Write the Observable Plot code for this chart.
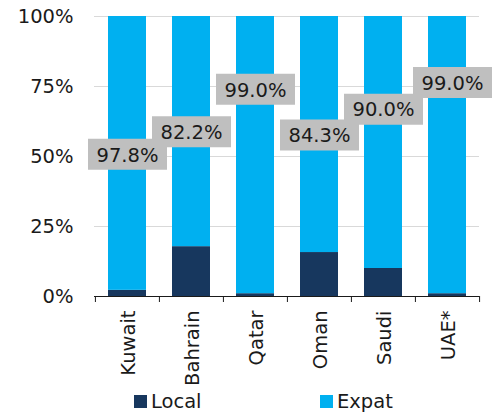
<!DOCTYPE html>
<html>
<head>
<meta charset="utf-8">
<script src="https://cdn.jsdelivr.net/npm/d3@7"></script>
<script src="https://cdn.jsdelivr.net/npm/@observablehq/plot@0.6"></script>
<style>
  html, body { margin: 0; padding: 0; background: #fff; }
  #wrap { position: relative; width: 502px; font-family: "DejaVu Sans", Verdana, sans-serif; color: #1a1a1a; }
  #chart svg text { font-size: 19.5px !important; }
  #legend { position: relative; height: 26px; font-size: 19.5px; }
  .item { position: absolute; top: 0; height: 31px; display: flex; align-items: center; }
  .sw { width: 13px; height: 13px; margin-right: 4px; }
</style>
</head>
<body>
<div id="wrap"><div id="chart"></div><div id="legend"></div></div>
<script>
const categories = ["Kuwait", "Bahrain", "Qatar", "Oman", "Saudi", "UAE*"];
const local = [2.2, 17.8, 1.0, 15.7, 10.0, 1.0];
const expat = [97.8, 82.2, 99.0, 84.3, 90.0, 99.0];
const labelAt = [50.8, 58.8, 74.0, 57.7, 66.9, 76.4];
const yTicks = [0, 25, 50, 75, 100];
const seriesNames = ["Local", "Expat"];
const seriesColors = ["#17375e", "#00b0f0"];

const rows = [];
categories.forEach((c, i) => {
  rows.push({cat: c, series: "Local", value: local[i]});
  rows.push({cat: c, series: "Expat", value: expat[i]});
});
const labels = categories.map((c, i) => ({cat: c, y: labelAt[i], text: expat[i].toFixed(1) + "%"}));

const W = 502, mL = 94, mR = 23;
const step = (W - mL - mR) / categories.length;
const boxSymbol = {draw(ctx) { ctx.rect(-39.5, -15.5, 79, 31); }};
const font = 19.5;

const chart = Plot.plot({
  width: W,
  height: 386,
  marginLeft: mL,
  marginRight: mR,
  marginTop: 16,
  marginBottom: 90,
  style: {fontFamily: '"DejaVu Sans", Verdana, sans-serif', fontSize: font + "px", color: "#1a1a1a", background: "#fff"},
  x: {domain: categories, paddingInner: 0.41, paddingOuter: 0.205, label: null},
  y: {domain: [0, 100], label: null},
  color: {domain: seriesNames, range: seriesColors},
  marks: [
    Plot.ruleY(yTicks.filter(d => d > 0), {stroke: "#d9d9d9", strokeWidth: 1}),
    Plot.barY(rows, {x: "cat", y: "value", fill: "series", order: seriesNames}),
    Plot.ruleY([0], {stroke: "#1a1a1a", strokeWidth: 1}),
    Plot.axisY({ticks: yTicks, tickSize: 0, tickPadding: 21, tickFormat: d => d + "%", fontSize: font, label: null}),
    Plot.axisX({tickSize: 6, tickFormat: () => "", dx: -step / 2, stroke: "#1a1a1a", label: null}),
    Plot.axisX({ticks: [categories[categories.length - 1]], tickSize: 6, tickFormat: () => "", dx: step / 2, stroke: "#1a1a1a", label: null}),
    Plot.axisX({tickSize: 0, tickPadding: 14, tickRotate: -90, fontSize: font, label: null, dx: 1}),
    Plot.dot(labels.slice(0, 5), {x: "cat", y: "y", symbol: boxSymbol, fill: "#bfbfbf", stroke: null}),
    Plot.dot(labels.slice(5), {x: "cat", y: "y", symbol: boxSymbol, fill: "#bfbfbf", stroke: null, dx: 5}),
    Plot.text(labels.slice(0, 5), {x: "cat", y: "y", text: "text", fontSize: font, fill: "#1a1a1a", dy: 1}),
    Plot.text(labels.slice(5), {x: "cat", y: "y", text: "text", fontSize: font, fill: "#1a1a1a", dx: 5, dy: 1})
  ]
});
document.getElementById("chart").appendChild(chart);

const legend = document.getElementById("legend");
const lefts = [134, 320];
seriesNames.forEach((s, i) => {
  const it = document.createElement("div");
  it.className = "item";
  it.style.left = lefts[i] + "px";
  it.innerHTML = `<span class="sw" style="background:${seriesColors[i]}"></span><span>${s}</span>`;
  legend.appendChild(it);
});
</script>
</body>
</html>
